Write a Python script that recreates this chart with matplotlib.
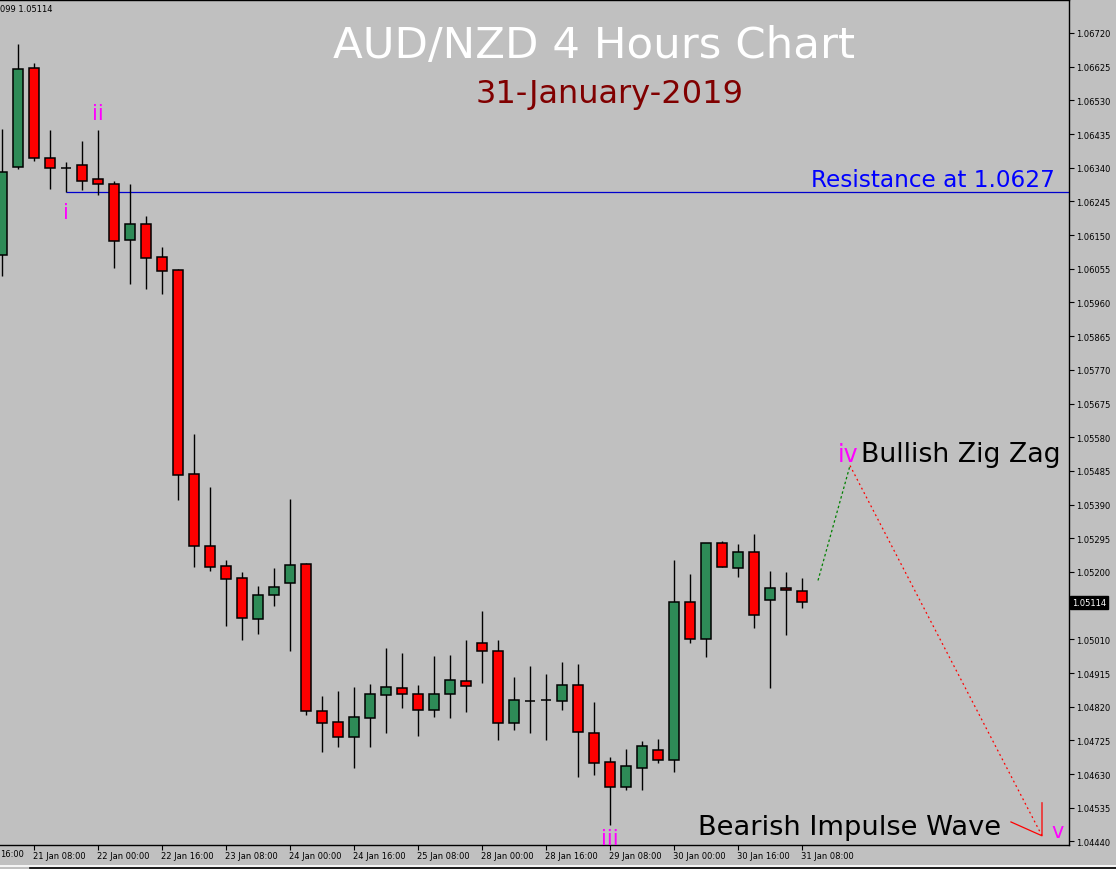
import numpy as np
import matplotlib
matplotlib.use('Agg')
import matplotlib.pyplot as plt
import matplotlib.transforms as mtrans
from matplotlib.lines import Line2D

# AUD/NZD 4H свечи (индекс бара 0 = 21 Jan 00:00)
opens = [1.06095, 1.06341, 1.06620, 1.06367, 1.06338, 1.06347, 1.06307, 1.06293, 1.06135, 1.06181,
         1.06088, 1.06052, 1.05475, 1.05272, 1.05216, 1.05182, 1.05067, 1.05134, 1.05170, 1.05222,
         1.04807, 1.04776, 1.04734, 1.04787, 1.04852, 1.04872, 1.04855, 1.04810, 1.04855, 1.04892,
         1.04999, 1.04976, 1.04773, 1.04837, 1.04840, 1.04835, 1.04881, 1.04746, 1.04663, 1.04593,
         1.04648, 1.04697, 1.04669, 1.05115, 1.05010, 1.05281, 1.05210, 1.05256, 1.05120, 1.05154,
         1.05146]
highs = [1.06449, 1.06689, 1.06635, 1.06446, 1.06355, 1.06415, 1.06446, 1.06302, 1.06293, 1.06203,
         1.06117, 1.06055, 1.05589, 1.05440, 1.05234, 1.05200, 1.05161, 1.05211, 1.05406, 1.05225,
         1.04850, 1.04864, 1.04876, 1.04884, 1.04986, 1.04972, 1.04881, 1.04963, 1.04966, 1.05008,
         1.05090, 1.05008, 1.04904, 1.04935, 1.04912, 1.04946, 1.04941, 1.04833, 1.04677, 1.04700,
         1.04723, 1.04728, 1.05234, 1.05194, 1.05281, 1.05287, 1.05279, 1.05307, 1.05203, 1.05200,
         1.05183]
lows = [1.06035, 1.06335, 1.06360, 1.06280, 1.06271, 1.06278, 1.06264, 1.06056, 1.06012, 1.05998,
        1.05984, 1.05403, 1.05215, 1.05204, 1.05049, 1.05009, 1.05025, 1.05105, 1.04978, 1.04798,
        1.04693, 1.04707, 1.04648, 1.04705, 1.04747, 1.04815, 1.04736, 1.04792, 1.04789, 1.04806,
        1.04888, 1.04727, 1.04755, 1.04747, 1.04727, 1.04812, 1.04623, 1.04626, 1.04487, 1.04586,
        1.04586, 1.04661, 1.04635, 1.05001, 1.04961, 1.05213, 1.05187, 1.05043, 1.04874, 1.05023,
        1.05097]
closes = [1.06327, 1.06618, 1.06367, 1.06338, 1.06338, 1.06302, 1.06293, 1.06133, 1.06181, 1.06085,
          1.06050, 1.05474, 1.05272, 1.05215, 1.05181, 1.05071, 1.05134, 1.05157, 1.05219, 1.04807,
          1.04775, 1.04734, 1.04790, 1.04855, 1.04875, 1.04855, 1.04810, 1.04855, 1.04895, 1.04878,
          1.04976, 1.04773, 1.04838, 1.04837, 1.04840, 1.04881, 1.04748, 1.04661, 1.04593, 1.04652,
          1.04708, 1.04669, 1.05115, 1.05010, 1.05281, 1.05213, 1.05256, 1.05078, 1.05154, 1.05148,
          1.05114]

time_ticks = [2, 6, 10, 14, 18, 22, 26, 30, 34, 38, 42, 46, 50]
time_labels = ['21 Jan 08:00', '22 Jan 00:00', '22 Jan 16:00', '23 Jan 08:00', '24 Jan 00:00',
               '24 Jan 16:00', '25 Jan 08:00', '28 Jan 00:00', '28 Jan 16:00', '29 Jan 08:00',
               '30 Jan 00:00', '30 Jan 16:00', '31 Jan 08:00']

last_price = 1.05114
resistance = 1.06271
# прогноз волн: iii -> iv (зелёный), iv -> v (красный)
zig_x = [51.0, 53.0]
zig_y = [1.05176, 1.05500]
imp_x = [53.0, 65.0]
imp_y = [1.05500, 1.04456]

bg = '#C0C0C0'
up_col = '#2E8B57'
dn_col = '#FF0000'
mag = '#FF00FF'

fig = plt.figure(figsize=(11.16, 8.7), dpi=100, facecolor=bg)
ax = fig.add_axes([0, 24 / 870, 1069 / 1116, 845 / 870])
ax.set_facecolor(bg)

n = len(opens)
idx = np.arange(n)
o = np.array(opens)
c = np.array(closes)
cols = [up_col if cc > oo else dn_col for oo, cc in zip(o, c)]

ax.vlines(idx, lows, highs, color='black', linewidth=1.0, zorder=2)
ax.bar(idx, np.abs(c - o), bottom=np.minimum(o, c), width=0.64, color=cols,
       edgecolor='black', linewidth=1.1, zorder=3)

ax.hlines(resistance, 4, 70, color='#0000CD', linewidth=0.9, zorder=1)
ax.text(65.8, 1.06288, 'Resistance at 1.0627', color='#0000FF', fontsize=16.7,
        ha='right', va='baseline')

ax.plot(zig_x, zig_y, color='#008000', linestyle=(0, (2, 2)), linewidth=0.9)
ax.plot(imp_x, imp_y, color='#FF0000', linestyle=(0, (1.5, 2.5)), linewidth=0.9)
ax.plot([63.06, 65.0, 65.0], [1.04495, 1.04456, 1.04549], color='#FF0000', linewidth=0.9)

# метки волн
ax.text(4, 1.06198, 'i', color=mag, fontsize=15, ha='center', va='baseline')
ax.text(5.98, 1.06477, 'ii', color=mag, fontsize=15, ha='center', va='baseline')
ax.text(38, 1.04432, 'iii', color=mag, fontsize=15, ha='center', va='baseline', clip_on=False)
ax.text(53.55, 1.05514, 'iv', color=mag, fontsize=17, ha='right', va='baseline')
ax.text(53.7, 1.05514, 'Bullish Zig Zag', color='black', fontsize=19.3, ha='left', va='baseline')
ax.text(43.5, 1.04461, 'Bearish Impulse Wave', color='black', fontsize=19.6, ha='left', va='baseline')
ax.text(65.97, 1.04452, 'v', color=mag, fontsize=15, ha='center', va='baseline')

ax.set_xlim(-0.125, 66.6875)
ax.set_ylim(1.04430, 1.06813)

yt = np.round(1.06720 - 0.00095 * np.arange(25), 5)
ax.yaxis.tick_right()
ax.set_yticks(yt)
# метка под рамкой текущей цены скрыта
ax.set_yticklabels(['' if abs(v - last_price) < 0.0003 else '%.5f' % v for v in yt])
ax.set_xticks(time_ticks)
ax.set_xticklabels(time_labels, ha='left')
ax.tick_params(axis='both', labelsize=6, length=3.5, width=0.8, color='black', pad=1.5)
ax.tick_params(axis='x', pad=1)
offset = mtrans.ScaledTranslation(-1 / 100, 0, fig.dpi_scale_trans)
for lab in ax.get_xticklabels():
    lab.set_transform(lab.get_transform() + offset)

# обрезанная первая метка времени
fig.text(0, 1 - 855 / 870, '16:00', fontsize=6, ha='left', va='center')

ax.spines['left'].set_visible(False)
for s in ['top', 'right', 'bottom']:
    ax.spines[s].set_color('black')
    ax.spines[s].set_linewidth(1.0)

# текущая цена
ax.text(1.0025, last_price, '%.5f' % last_price,
        transform=mtrans.blended_transform_factory(ax.transAxes, ax.transData),
        fontsize=6, color='white', ha='left', va='center', clip_on=False, zorder=5,
        bbox=dict(boxstyle='square,pad=0.25', facecolor='black', edgecolor='black'))

fig.text(594 / 1116, 1 - 58.3 / 870, 'AUD/NZD 4 Hours Chart', color='white', fontsize=31.3,
         ha='center', va='baseline')
fig.text(610 / 1116, 1 - 103.3 / 870, '31-January-2019', color='#800000', fontsize=23,
         ha='center', va='baseline')
fig.text(0, 1 - 9 / 870, '099 1.05114', fontsize=6, color='black', ha='left', va='center')

fig.add_artist(Line2D([0, 1], [1 - 867 / 870] * 2, transform=fig.transFigure, color='white', linewidth=1.2))
fig.add_artist(Line2D([30 / 1116, 1], [0.0008] * 2, transform=fig.transFigure, color='black', linewidth=1.2))

fig.savefig('out.png', dpi=100, facecolor=bg)
